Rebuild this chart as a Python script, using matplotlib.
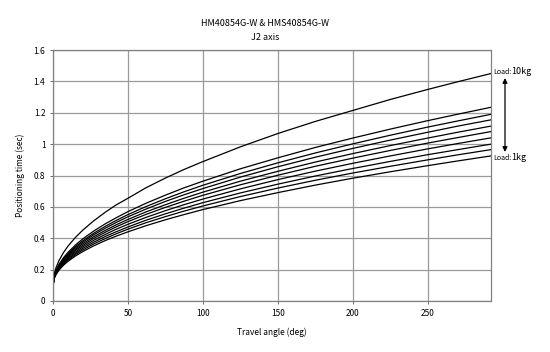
import matplotlib
matplotlib.use("Agg")
import matplotlib.pyplot as plt

plt.rcParams['font.family'] = ['Noto Sans CJK JP', 'DejaVu Sans']

# travel angle (deg) sample points
angles = [0, 1, 2, 4, 7, 10, 15, 20, 27, 35, 42, 50, 62, 75, 87, 100,
          125, 150, 175, 200, 225, 250, 270, 292]

# positioning time (sec), one list per payload (kg)
load_1kg = [0.100, 0.148, 0.168, 0.197, 0.228, 0.253, 0.287, 0.316, 0.351, 0.386, 0.413, 0.441,
            0.480, 0.518, 0.550, 0.583, 0.640, 0.691, 0.739, 0.783, 0.824, 0.863, 0.893, 0.925]
load_2kg = [0.100, 0.151, 0.172, 0.201, 0.234, 0.260, 0.296, 0.326, 0.363, 0.399, 0.428, 0.458,
            0.499, 0.538, 0.572, 0.606, 0.666, 0.720, 0.770, 0.816, 0.859, 0.900, 0.932, 0.965]
load_3kg = [0.100, 0.153, 0.174, 0.205, 0.239, 0.267, 0.304, 0.336, 0.374, 0.412, 0.441, 0.472,
            0.515, 0.556, 0.591, 0.627, 0.689, 0.745, 0.797, 0.845, 0.890, 0.933, 0.965, 1.000]
load_4kg = [0.100, 0.155, 0.178, 0.210, 0.246, 0.274, 0.313, 0.346, 0.386, 0.425, 0.457, 0.489,
            0.533, 0.576, 0.613, 0.650, 0.715, 0.774, 0.828, 0.878, 0.925, 0.970, 1.004, 1.040]
load_5kg = [0.100, 0.157, 0.181, 0.215, 0.252, 0.281, 0.322, 0.356, 0.398, 0.439, 0.472, 0.506,
            0.552, 0.597, 0.635, 0.674, 0.741, 0.802, 0.859, 0.911, 0.960, 1.007, 1.042, 1.080]
load_6kg = [0.100, 0.159, 0.184, 0.219, 0.257, 0.288, 0.330, 0.366, 0.409, 0.451, 0.485, 0.520,
            0.568, 0.614, 0.654, 0.694, 0.764, 0.827, 0.886, 0.940, 0.991, 1.039, 1.076, 1.115]
load_7kg = [0.100, 0.162, 0.187, 0.223, 0.263, 0.295, 0.339, 0.376, 0.421, 0.465, 0.500, 0.537,
            0.586, 0.635, 0.676, 0.717, 0.790, 0.856, 0.917, 0.973, 1.026, 1.076, 1.115, 1.155]
load_8kg = [0.100, 0.164, 0.190, 0.228, 0.269, 0.302, 0.347, 0.385, 0.431, 0.477, 0.513, 0.551,
            0.602, 0.652, 0.695, 0.738, 0.813, 0.881, 0.944, 1.002, 1.057, 1.109, 1.148, 1.190]
load_9kg = [0.100, 0.166, 0.194, 0.233, 0.276, 0.310, 0.357, 0.397, 0.445, 0.493, 0.530, 0.570,
            0.623, 0.675, 0.720, 0.764, 0.843, 0.913, 0.979, 1.039, 1.096, 1.150, 1.191, 1.235]
load_10kg = [0.100, 0.179, 0.212, 0.258, 0.309, 0.350, 0.406, 0.453, 0.510, 0.567, 0.612, 0.655,
             0.722, 0.784, 0.837, 0.889, 0.983, 1.068, 1.145, 1.215, 1.285, 1.349, 1.398, 1.450]

curves = [load_1kg, load_2kg, load_3kg, load_4kg, load_5kg,
          load_6kg, load_7kg, load_8kg, load_9kg, load_10kg]

x_ticks = [0, 50, 100, 150, 200, 250]
y_ticks = [0, 0.2, 0.4, 0.6, 0.8, 1.0, 1.2, 1.4, 1.6]
y_tick_labels = ["0", "0.2", "0.4", "0.6", "0.8", "1", "1.2", "1.4", "1.6"]

fig = plt.figure(figsize=(5.5, 3.52), dpi=100)
ax = fig.add_axes([53 / 550, 51 / 352, 438 / 550, 251 / 352])

for c in curves:
    ax.plot(angles, c, color="black", lw=0.9)

ax.set_xlim(0, 292)
ax.set_ylim(0, 1.6)
ax.set_xticks(x_ticks)
ax.set_yticks(y_ticks)
ax.set_yticklabels(y_tick_labels)
ax.tick_params(labelsize=6, length=2.5, width=0.6, color="#555555", pad=3)
ax.grid(True, color="#9a9a9a", lw=0.9)
ax.set_axisbelow(True)
for s in ax.spines.values():
    s.set_color("#808080")
    s.set_linewidth(0.9)

ax.set_xlabel("Travel angle (deg)", fontsize=6, labelpad=7)
ax.set_ylabel("Positioning time (sec)", fontsize=6, labelpad=6)

fig.text(265 / 550, 1 - 24 / 352, "HM40854G-W & HMS40854G-W", fontsize=6.5,
         ha="center", va="center")
fig.text(265 / 550, 1 - 37 / 352, "J2 axis", fontsize=6.5, ha="center", va="center")

# load labels at the line ends
fig.text(493 / 550, 1 - 72 / 352, "Load:", fontsize=5, ha="left", va="center")
fig.text(511 / 550, 1 - 72 / 352, "10kg", fontsize=6.5, ha="left", va="center")
fig.text(493 / 550, 1 - 158 / 352, "Load:", fontsize=5, ha="left", va="center")
fig.text(511 / 550, 1 - 157 / 352, "1kg", fontsize=6.5, ha="left", va="center")

ax.annotate("", xy=(505 / 550, 1 - 78 / 352), xytext=(505 / 550, 1 - 152 / 352),
            xycoords="figure fraction", textcoords="figure fraction",
            arrowprops=dict(arrowstyle="<|-|>", color="black", lw=0.9,
                            mutation_scale=7, shrinkA=0, shrinkB=0))

fig.savefig("out.png", dpi=100)
